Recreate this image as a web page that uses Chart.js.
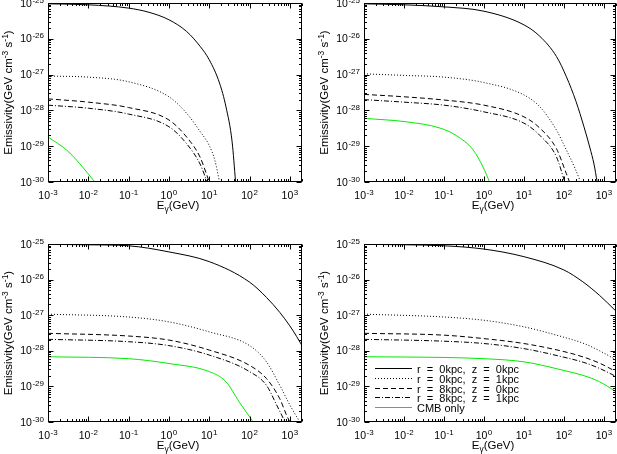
<!DOCTYPE html>
<html>
<head>
<meta charset="utf-8">
<script src="https://cdn.jsdelivr.net/npm/chart.js@4.4.1/dist/chart.umd.min.js"></script>
<style>
  html, body { margin: 0; padding: 0; background: #fff; }
  #wrap { position: relative; width: 617px; height: 454px; }
  canvas { position: absolute; }
</style>
</head>
<body>
<div id="wrap">
  <canvas id="c1" width="309" height="225" style="left:0;top:0"></canvas>
  <canvas id="c2" width="308" height="225" style="left:309px;top:0"></canvas>
  <canvas id="c3" width="309" height="229" style="left:0;top:225px"></canvas>
  <canvas id="c4" width="308" height="229" style="left:309px;top:225px"></canvas>
</div>
<script>
// legend labels
var seriesNames = ['r = 0kpc, z = 0kpc', 'r = 0kpc, z = 1kpc', 'r = 8kpc, z = 0kpc', 'r = 8kpc, z = 1kpc', 'CMB only'];

// tick labels (exponents of ten)
var xExponents = ['-3', '-2', '-1', '0', '1', '2', '3'];
var yExponents = ['-30', '-29', '-28', '-27', '-26', '-25'];

// [E_gamma (GeV), emissivity] -- top left
var aR0Z0 = [[1e-3, 9.5e-26], [1e-2, 8.9e-26], [0.1, 7.2e-26], [0.32, 5.5e-26], [1, 3.4e-26], [2.75, 1.6e-26], [5.9, 6.2e-27], [10, 2.6e-27], [18, 5.8e-28], [26, 1.26e-28], [37, 1.3e-29], [45, 1e-30]];
var aR0Z1 = [[1e-3, 9.1e-28], [1e-2, 8.5e-28], [0.1, 6.3e-28], [1, 2.4e-28], [2.75, 8.3e-29], [5.9, 2.6e-29], [10, 1.05e-29], [13.8, 4e-30], [18, 1e-30]];
var aR8Z0 = [[1e-3, 2.1e-28], [1e-2, 1.7e-28], [0.1, 1.2e-28], [1, 5.4e-29], [2.75, 1.8e-29], [5.9, 5e-30], [8.5, 1.7e-30], [10, 1e-30]];
var aR8Z1 = [[1e-3, 1.4e-28], [1e-2, 1.15e-28], [0.1, 7.9e-29], [1, 3.5e-29], [2.75, 1.17e-29], [5.9, 3.2e-30], [8.9, 1e-30]];
var aCMB  = [[1e-3, 1.8e-29], [2.9e-3, 7.8e-30], [6.2e-3, 3.2e-30], [1.45e-2, 1e-30]];

// top right
var bR0Z0 = [[1e-3, 9.5e-26], [1e-2, 8.9e-26], [0.1, 7.8e-26], [1, 5.9e-26], [10, 2.45e-26], [25, 1.17e-26], [65, 3.2e-27], [115, 8.7e-28], [200, 1.78e-28], [316, 3.5e-29], [447, 8.9e-30], [562, 3.2e-30], [676, 1e-30]];
var bR0Z1 = [[1e-3, 1.05e-27], [1e-2, 9.5e-28], [0.1, 8.5e-28], [1, 6e-28], [10, 2.7e-28], [25, 1.26e-28], [65, 2.8e-29], [115, 7.8e-30], [186, 2.5e-30], [260, 1e-30]];
var bR8Z0 = [[1e-3, 2.8e-28], [1e-2, 2.4e-28], [0.1, 1.95e-28], [1, 1.4e-28], [10, 6.6e-29], [25, 3.2e-29], [65, 8.5e-30], [115, 1.7e-30], [138, 1e-30]];
var bR8Z1 = [[1e-3, 2.0e-28], [1e-2, 1.7e-28], [0.1, 1.4e-28], [1, 9.1e-29], [10, 4.4e-29], [25, 2e-29], [65, 5e-30], [105, 1e-30]];
var bCMB  = [[1e-3, 6e-29], [1.15e-2, 4.8e-29], [0.08, 3.2e-29], [0.2, 2e-29], [0.54, 7.8e-30], [0.95, 2.6e-30], [1.38, 1e-30]];

// bottom left
var cR0Z0 = [[1e-3, 9.8e-26], [1e-2, 9.5e-26], [0.1, 8.9e-26], [1, 6e-26], [10, 3.2e-26], [100, 8.5e-27], [263, 3.16e-27], [562, 1.2e-27], [1000, 5e-28], [1480, 2.5e-28], [2000, 1.4e-28]];
var cR0Z1 = [[1e-3, 1.07e-27], [0.1, 8.9e-28], [1, 6.5e-28], [10, 3.4e-28], [100, 1.4e-28], [263, 4.9e-29], [562, 1.07e-29], [1000, 3e-30], [1480, 1.4e-30], [1780, 1e-30]];
var cR8Z0 = [[1e-3, 3.1e-28], [0.1, 2.6e-28], [1, 2e-28], [10, 1.05e-28], [100, 3.9e-29], [263, 1.66e-29], [562, 4.5e-30], [830, 1.55e-30], [1000, 1e-30]];
var cR8Z1 = [[1e-3, 2.1e-28], [0.1, 1.8e-28], [1, 1.4e-28], [10, 7.6e-29], [100, 2.6e-29], [263, 1.07e-29], [470, 3e-30], [760, 1e-30]];
var cCMB  = [[1e-3, 6.8e-29], [0.1, 6e-29], [1, 4.4e-29], [10, 2.6e-29], [26, 1.35e-29], [56, 3.6e-30], [123, 1e-30]];

// bottom right
var dR0Z0 = [[1e-3, 9.8e-26], [0.1, 8.9e-26], [1, 7.2e-26], [10, 4.4e-26], [100, 1.86e-26], [295, 8.7e-27], [776, 3.6e-27], [2000, 1.3e-27]];
var dR0Z1 = [[1e-3, 1.07e-27], [0.1, 8.9e-28], [1, 7.2e-28], [10, 4.7e-28], [100, 2.4e-28], [316, 1.6e-28], [776, 1e-28], [2000, 5.6e-29]];
var dR8Z0 = [[1e-3, 3.1e-28], [0.1, 2.75e-28], [1, 2.2e-28], [10, 1.6e-28], [100, 9.5e-29], [316, 6.6e-29], [776, 4.5e-29], [2000, 2.6e-29]];
var dR8Z1 = [[1e-3, 2.1e-28], [0.1, 1.86e-28], [1, 1.6e-28], [10, 1.15e-28], [100, 6.6e-29], [316, 4.7e-29], [776, 3.2e-29], [2000, 1.9e-29]];
var dCMB  = [[1e-3, 6.8e-29], [0.1, 6.5e-29], [1, 6e-29], [10, 4.9e-29], [100, 2.8e-29], [316, 2e-29], [776, 1.35e-29], [2000, 7.1e-30]];

var FONT = '"Liberation Sans", Arial, sans-serif';
var lineStyles = [
    { color: '#000', dash: [] },
    { color: '#000', dash: [1, 2] },
    { color: '#000', dash: [5, 3] },
    { color: '#000', dash: [5, 2, 1, 2] },
    { color: 'rgb(0,235,0)', dash: [] }
];

function powLabel(ctx, exp, x, y, align) {
    ctx.font = '10.5px ' + FONT;
    var wb = ctx.measureText('10').width;
    ctx.font = '8px ' + FONT;
    var we = ctx.measureText(exp).width;
    var w = wb + we + 0.5;
    var sx = align === 'center' ? x - w / 2 : x - w;
    ctx.textAlign = 'left';
    ctx.textBaseline = 'alphabetic';
    ctx.font = '10.5px ' + FONT;
    ctx.fillText('10', sx, y);
    ctx.font = '8px ' + FONT;
    ctx.fillText(exp, sx + wb + 0.5, y - 4);
}

// draws runs of [text, 'n'|'sup'|'sub'] starting at x along the baseline
function richText(ctx, parts, x, y, measureOnly) {
    var pos = x;
    parts.forEach(function(p) {
        ctx.font = (p[1] === 'n' ? '11.5px ' : '8.5px ') + FONT;
        var dy = p[1] === 'sup' ? -4.5 : (p[1] === 'sub' ? 3 : 0);
        if (!measureOnly) ctx.fillText(p[0], pos, y + dy);
        pos += ctx.measureText(p[0]).width;
    });
    return pos - x;
}

var framePlugin = {
    id: 'frame',
    afterDraw: function(chart, args, opts) {
        var ctx = chart.ctx, a = chart.chartArea;
        var xs = chart.scales.x, ys = chart.scales.y;
        var L = Math.round(a.left) + 0.5, R = Math.round(a.right) - 0.5;
        var T = Math.round(a.top) + 0.5, B = Math.round(a.bottom) - 0.5;
        ctx.save();
        ctx.strokeStyle = '#000';
        ctx.fillStyle = '#000';
        ctx.lineWidth = 1;
        ctx.setLineDash([]);
        ctx.strokeRect(L, T, R - L, B - T);

        ctx.beginPath();
        for (var d = -3; d <= 3; d++) {
            for (var m = 1; m <= 9; m++) {
                var v = m * Math.pow(10, d);
                if (v > xs.max) break;
                var px = Math.round(xs.getPixelForValue(v)) + 0.5;
                var len = m === 1 ? 5 : 2.5;
                ctx.moveTo(px, B); ctx.lineTo(px, B - len);
                ctx.moveTo(px, T); ctx.lineTo(px, T + len);
            }
        }
        for (var e = -30; e <= -25; e++) {
            for (var k = 1; k <= 9; k++) {
                var w = k * Math.pow(10, e);
                if (w > ys.max * 1.0001) break;
                var py = Math.round(ys.getPixelForValue(w)) + 0.5;
                var ln = k === 1 ? 5 : 2.5;
                ctx.moveTo(L, py); ctx.lineTo(L + ln, py);
                ctx.moveTo(R, py); ctx.lineTo(R - ln, py);
            }
        }
        ctx.stroke();

        xExponents.forEach(function(ex) {
            powLabel(ctx, ex, xs.getPixelForValue(Math.pow(10, +ex)), a.bottom + 17, 'center');
        });
        yExponents.forEach(function(ex) {
            powLabel(ctx, ex, a.left - 4, ys.getPixelForValue(Math.pow(10, +ex)) + 3.5, 'right');
        });

        // x title
        var xt = [['E', 'n'], ['\u03b3', 'sub'], ['(GeV)', 'n']];
        ctx.textAlign = 'left';
        ctx.textBaseline = 'alphabetic';
        var tw = richText(ctx, xt, 0, 0, true);
        richText(ctx, xt, (a.left + a.right) / 2 + 3 - tw / 2, a.bottom + 27);

        // y title
        var yt = [['Emissivity(GeV cm', 'n'], ['-3', 'sup'], [' s', 'n'], ['-1', 'sup'], [')', 'n']];
        var yw = richText(ctx, yt, 0, 0, true);
        ctx.translate(a.left - 36, (a.top + a.bottom) / 2);
        ctx.rotate(-Math.PI / 2);
        richText(ctx, yt, -yw / 2, 0);
        ctx.setTransform(1, 0, 0, 1, 0, 0);

        if (opts.legend) {
            var lx = 66, ly = 143;
            chart.data.datasets.forEach(function(ds, i) {
                var y = Math.round(ly + i * 9.8) + 0.5;
                ctx.strokeStyle = ds.borderColor;
                ctx.setLineDash(ds.borderDash);
                ctx.beginPath();
                ctx.moveTo(lx, y);
                ctx.lineTo(lx + 37, y);
                ctx.stroke();
                ctx.setLineDash([]);
                ctx.fillStyle = '#000';
                ctx.font = '11px ' + FONT;
                ctx.fillText(ds.label.replace(/ = /g, '  =  ').replace(', ', ',  '), lx + 42, y + 4);
            });
        }
        ctx.restore();
    }
};

function makePanel(id, seriesData, pad, withLegend) {
    var datasets = seriesData.map(function(pts, i) {
        return {
            label: seriesNames[i],
            data: pts,
            borderColor: lineStyles[i].color,
            borderDash: lineStyles[i].dash,
            borderWidth: 1,
            pointRadius: 0,
            cubicInterpolationMode: 'monotone',
            fill: false
        };
    });
    return new Chart(document.getElementById(id).getContext('2d'), {
        type: 'line',
        data: { datasets: datasets },
        plugins: [framePlugin],
        options: {
            responsive: false,
            animation: false,
            events: [],
            layout: { padding: pad },
            plugins: {
                legend: { display: false },
                tooltip: { enabled: false },
                frame: { legend: withLegend }
            },
            scales: {
                x: {
                    type: 'logarithmic', min: 1e-3, max: 2e3,
                    ticks: { display: false }, grid: { display: false }, border: { display: false },
                    afterFit: function(s) { s.height = 0; }
                },
                y: {
                    type: 'logarithmic', min: 1e-30, max: 1e-25,
                    ticks: { display: false }, grid: { display: false }, border: { display: false },
                    afterFit: function(s) { s.width = 0; }
                }
            }
        }
    });
}

makePanel('c1', [aR0Z0, aR0Z1, aR8Z0, aR8Z1, aCMB], { left: 48, right: 7, top: 3, bottom: 43 }, false);
makePanel('c2', [bR0Z0, bR0Z1, bR8Z0, bR8Z1, bCMB], { left: 55, right: 1, top: 3, bottom: 43 }, false);
makePanel('c3', [cR0Z0, cR0Z1, cR8Z0, cR8Z1, cCMB], { left: 48, right: 7, top: 19, bottom: 32 }, false);
makePanel('c4', [dR0Z0, dR0Z1, dR8Z0, dR8Z1, dCMB], { left: 55, right: 1, top: 19, bottom: 32 }, true);
</script>
</body>
</html>
